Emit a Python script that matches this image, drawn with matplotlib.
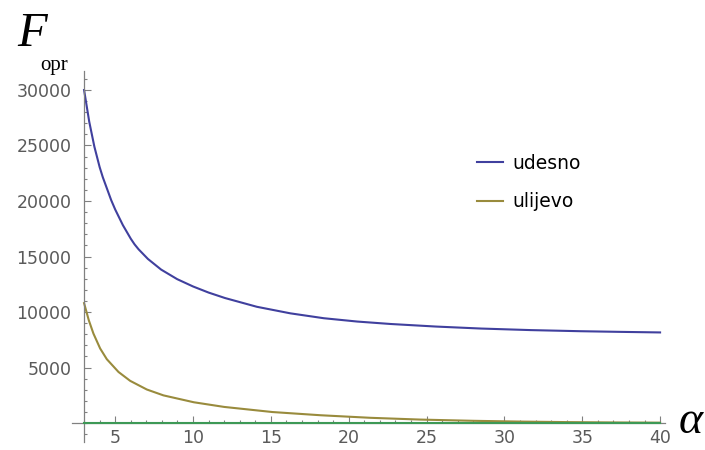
import numpy as np
from matplotlib import pyplot as plt
from matplotlib.ticker import FixedLocator

# values
alpha_udesno = [3, 3.33, 3.66, 4.0, 4.2, 4.74, 5.0, 5.49, 6.0, 6.24, 6.5, 7.1, 7.95, 8.98,
                10, 11, 12.05, 14.1, 16.25, 18.4, 20.55, 22.7, 25.6, 28.5, 31.7, 34.9,
                37.5, 40]
F_udesno = [30000, 27150, 24900, 23050, 22150, 20080, 19230, 17830, 16600, 16100, 15650,
            14780, 13820, 12960, 12300, 11750, 11260, 10470, 9880, 9440, 9140, 8920,
            8690, 8510, 8370, 8270, 8210, 8160]

alpha_ulijevo = [3, 3.3, 3.6, 4.03, 4.46, 5.21, 5.96, 7.03, 8.1, 10.05, 12, 15.1, 18.2,
                 21.4, 24.6, 28, 31, 34, 37, 40]
F_ulijevo = [10800, 9270, 8060, 6720, 5750, 4600, 3800, 3020, 2490, 1870, 1450, 990, 700,
             470, 310, 200, 130, 83, 52, 32]

alpha_zero = [3, 40]
F_zero = [0, 0]

x_ticks = [5, 10, 15, 20, 25, 30, 35, 40]
y_ticks = [5000, 10000, 15000, 20000, 25000, 30000]

blue = '#40409E'
olive = '#998B3D'
green = '#3D9956'
gray = '#808080'

fig = plt.figure(figsize=(7.05, 4.5), dpi=100)
ax = fig.add_axes([0.1016, 0.018, 0.8413, 0.824])

ax.plot(alpha_udesno, F_udesno, color=blue, lw=1.5, label='udesno')
ax.plot(alpha_ulijevo, F_ulijevo, color=olive, lw=1.5, label='ulijevo')
ax.plot(alpha_zero, F_zero, color=green, lw=1.5, zorder=3)

ax.set_xlim(2.2, 40.3)
ax.set_ylim(-1700, 31700)

for s in ['top', 'right']:
    ax.spines[s].set_visible(False)
ax.spines['left'].set_position(('data', 3))
ax.spines['bottom'].set_position(('data', 0))
for s in ['left', 'bottom']:
    ax.spines[s].set_color(gray)
    ax.spines[s].set_linewidth(0.9)

ax.xaxis.set_major_locator(FixedLocator(x_ticks))
ax.xaxis.set_minor_locator(FixedLocator(np.arange(3, 41, 1)))
ax.yaxis.set_major_locator(FixedLocator(y_ticks))
ax.yaxis.set_minor_locator(FixedLocator(np.arange(-1000, 32000, 1000)))
ax.set_xticklabels([str(t) for t in x_ticks])
ax.set_yticklabels([str(t) for t in y_ticks])

ax.tick_params(which='major', direction='in', length=5, width=0.8, color=gray,
               labelsize=12.5, labelcolor='#5a5a5a')
ax.tick_params(axis='x', which='major', pad=4)
ax.tick_params(axis='y', which='major', pad=9)
ax.tick_params(which='minor', direction='in', length=2.5, width=0.8, color=gray)

fig.text(0.045, 0.924, 'F', family='Liberation Serif', style='italic', fontsize=35,
         ha='center', va='center')
fig.text(0.077, 0.855, 'opr', family='Liberation Serif', fontsize=15,
         ha='center', va='center')
fig.text(0.979, 0.062, 'α', family='Liberation Serif', style='italic', fontsize=33,
         ha='center', va='center')

ax.legend(loc='upper left', bbox_to_anchor=(477/705, 1 - 154/450), bbox_transform=fig.transFigure,
          frameon=False, fontsize=13.5, handlelength=1.39, handletextpad=0.48,
          labelspacing=1.02, borderpad=0, borderaxespad=0)

fig.savefig('out.png', dpi=100)
